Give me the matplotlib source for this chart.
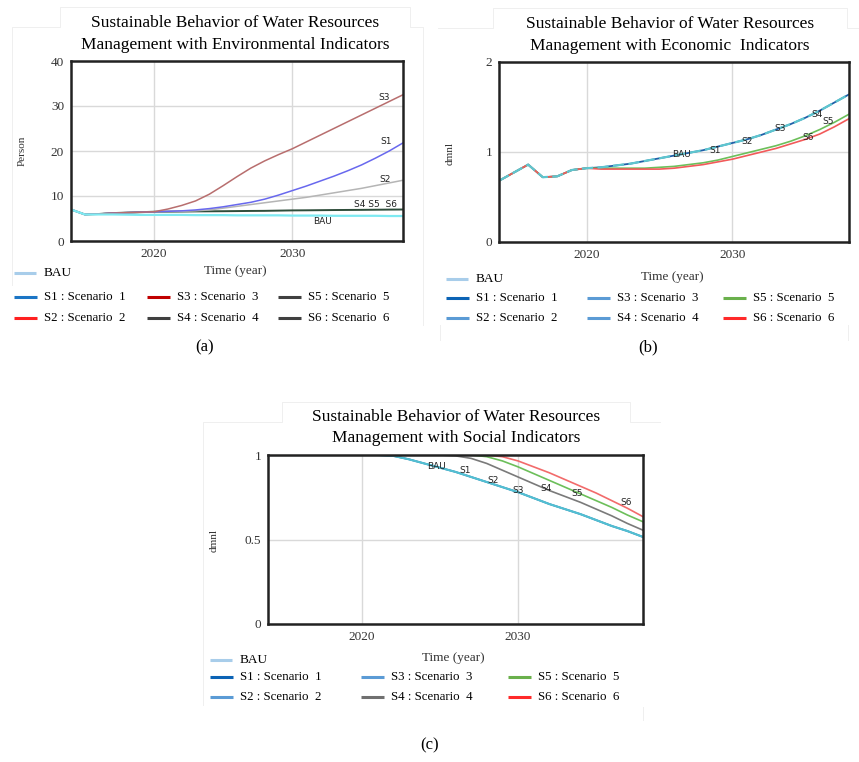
import matplotlib
matplotlib.use("Agg")
import matplotlib.pyplot as plt
from matplotlib.lines import Line2D

W, H = 859, 762
SERIF = "Liberation Serif"

years = list(range(2014, 2039))

# (a) environmental indicators, Person
bau_a = [7.0, 5.9, 5.9, 5.9, 5.85, 5.8, 5.8, 5.8, 5.8, 5.75, 5.75, 5.75, 5.7,
         5.7, 5.7, 5.7, 5.65, 5.65, 5.65, 5.6, 5.6, 5.6, 5.6, 5.55, 5.55]
s1_a = [7.0, 5.9, 6.0, 6.2, 6.3, 6.4, 6.5, 6.6, 6.7, 6.9, 7.2, 7.6, 8.1,
        8.6, 9.3, 10.2, 11.2, 12.2, 13.3, 14.4, 15.6, 16.9, 18.4, 20.0, 21.8]
s2_a = [7.0, 5.9, 6.0, 6.2, 6.3, 6.4, 6.5, 6.55, 6.6, 6.7, 6.9, 7.3, 7.7,
        8.1, 8.5, 8.9, 9.3, 9.7, 10.2, 10.7, 11.2, 11.7, 12.3, 12.9, 13.5]
s3_a = [7.0, 5.9, 6.0, 6.2, 6.3, 6.4, 6.5, 7.1, 7.9, 8.9, 10.4, 12.3, 14.3,
        16.2, 17.8, 19.2, 20.5, 22.0, 23.5, 25.0, 26.5, 28.0, 29.5, 31.0, 32.5]
s456_a = [7.0, 5.9, 6.0, 6.2, 6.3, 6.4, 6.5, 6.52, 6.55, 6.58, 6.6, 6.62, 6.65,
          6.68, 6.7, 6.75, 6.8, 6.82, 6.85, 6.88, 6.9, 6.92, 6.95, 6.98, 7.0]

# (b) economic indicators, dmnl
bau_b = [0.68, 0.77, 0.86, 0.72, 0.73, 0.80, 0.82, 0.83, 0.85, 0.87, 0.90, 0.93,
         0.96, 0.99, 1.02, 1.06, 1.10, 1.14, 1.19, 1.25, 1.31, 1.38, 1.46, 1.55, 1.64]
s5_b = [0.68, 0.77, 0.86, 0.72, 0.73, 0.80, 0.82, 0.82, 0.82, 0.82, 0.82, 0.83,
        0.84, 0.86, 0.88, 0.91, 0.95, 0.99, 1.03, 1.07, 1.12, 1.18, 1.25, 1.33, 1.42]
s6_b = [0.68, 0.77, 0.86, 0.72, 0.73, 0.80, 0.82, 0.81, 0.81, 0.81, 0.81, 0.81,
        0.82, 0.84, 0.86, 0.89, 0.92, 0.96, 1.00, 1.04, 1.09, 1.14, 1.20, 1.28, 1.37]

# (c) social indicators, dmnl
bau_c = [1.0, 1.0, 1.0, 1.0, 1.0, 1.0, 1.0, 1.0, 0.995, 0.975, 0.95, 0.925, 0.90,
         0.87, 0.84, 0.81, 0.78, 0.745, 0.71, 0.68, 0.65, 0.615, 0.58, 0.55, 0.515]
s4_c = [1.0, 1.0, 1.0, 1.0, 1.0, 1.0, 1.0, 1.0, 1.0, 1.0, 1.0, 1.0, 0.995,
        0.98, 0.95, 0.91, 0.87, 0.83, 0.79, 0.755, 0.72, 0.68, 0.64, 0.595, 0.555]
s5_c = [1.0, 1.0, 1.0, 1.0, 1.0, 1.0, 1.0, 1.0, 1.0, 1.0, 1.0, 1.0, 1.0,
        1.0, 0.99, 0.965, 0.93, 0.89, 0.85, 0.81, 0.77, 0.73, 0.69, 0.645, 0.605]
s6_c = [1.0, 1.0, 1.0, 1.0, 1.0, 1.0, 1.0, 1.0, 1.0, 1.0, 1.0, 1.0, 1.0,
        1.0, 1.0, 0.99, 0.965, 0.93, 0.895, 0.855, 0.815, 0.775, 0.73, 0.685, 0.635]

legend_names = ["S1 : Scenario  1", "S2 : Scenario  2", "S3 : Scenario  3",
                "S4 : Scenario  4", "S5 : Scenario  5", "S6 : Scenario  6"]


def box(l, t, r, b):
    return [l / W, 1 - b / H, (r - l) / W, (b - t) / H]


def ftext(x, y, s, **kw):
    fig.text(x / W, 1 - y / H, s, **kw)


def fline(x1, x2, y, color, lw=2.2):
    fig.add_artist(Line2D([x1 / W, x2 / W], [1 - y / H, 1 - y / H],
                          transform=fig.transFigure, color=color, lw=lw,
                          solid_capstyle="butt"))


def frame(pts):
    # faint crop border left over from the screenshots
    fig.add_artist(Line2D([p[0] / W for p in pts], [1 - p[1] / H for p in pts],
                          transform=fig.transFigure, color="#efefef", lw=0.7))


def setup_axes(ax, ymax, yticks, yticklabels):
    ax.set_xlim(2014, 2038)
    ax.set_ylim(0, ymax)
    ax.set_xticks([2020, 2030])
    ax.set_yticks(yticks)
    ax.set_yticklabels(yticklabels)
    ax.tick_params(length=0, pad=5, labelsize=9.5, labelcolor="#333333")
    for lab in ax.get_xticklabels() + ax.get_yticklabels():
        lab.set_fontfamily(SERIF)
    ax.grid(True, color="#d9d9d9", lw=1)
    for sp in ax.spines.values():
        sp.set_linewidth(1.8)
        sp.set_color("#222222")


def legend(x0, y_bau, rows, cols, colors, time_x):
    fline(x0[0], x0[0] + 22, y_bau, "#a8cdea")
    ftext(x0[0] + 30, y_bau, "BAU", family=SERIF, fontsize=9.5, va="center")
    ftext(time_x, y_bau - 2, "Time (year)", family=SERIF, fontsize=9.5,
          va="center", ha="center", color="#333333")
    k = 0
    for c in range(3):
        for r in range(2):
            fline(cols[c], cols[c] + 23, rows[r], colors[k])
            ftext(cols[c] + 30, rows[r], legend_names[k], family=SERIF,
                  fontsize=9.3, va="center")
            k += 1


fig = plt.figure(figsize=(W / 100, H / 100), dpi=100)

lab_kw = dict(fontsize=6.5, family="DejaVu Sans", color="#222222",
              ha="center", va="center")

frame([(12, 285), (12, 27), (60, 27), (60, 7), (410, 7), (410, 27), (423, 27), (423, 325)])
frame([(438, 28), (493, 28), (493, 8), (847, 8), (847, 28), (859, 28)])
frame([(440, 325), (440, 340)])
frame([(848, 325), (848, 340)])
frame([(203, 705), (203, 422), (282, 422), (282, 402), (630, 402), (630, 422), (660, 422)])
frame([(643, 707), (643, 720)])

# ---------- (a)
ax = fig.add_axes(box(71, 61, 403, 241))
ax.plot(years, s456_a, color="#2e4d3a", lw=1.4)
ax.plot(years, s2_a, color="#b5b5b5", lw=1.1)
ax.plot(years, s1_a, color="#6868ee", lw=1.1)
ax.plot(years, s3_a, color="#b86e6e", lw=1.1)
ax.plot(years, bau_a, color="#7eeaf2", lw=1.6)
setup_axes(ax, 40, [0, 10, 20, 30, 40], ["0", "10", "20", "30", "40"])
ax.text(2036.6, 32.0, "S3", **lab_kw)
ax.text(2036.8, 22.0, "S1", **lab_kw)
ax.text(2036.7, 13.7, "S2", **lab_kw)
ax.text(2036.0, 8.2, "S4 S5  S6", **lab_kw)
ax.text(2032.2, 4.4, "BAU", **lab_kw)
ftext(235, 23, "Sustainable Behavior of Water Resources", family=SERIF,
      fontsize=12.5, ha="center", va="center")
ftext(235, 45, "Management with Environmental Indicators", family=SERIF,
      fontsize=12.5, ha="center", va="center")
ftext(22, 151, "Person", family=SERIF, fontsize=8, rotation=90,
      ha="center", va="center", color="#333333")
legend([14], 273, [297, 318], [14, 147, 278],
       ["#1b75c5", "#ff2020", "#c00000", "#404040", "#404040", "#404040"], 235)

# ---------- (b)
ax = fig.add_axes(box(499, 62, 849, 242))
ax.plot(years, bau_b, color="#1f5fa8", lw=1.3)
ax.plot(years, s5_b, color="#6cbf5a", lw=1.2)
ax.plot(years, s6_b, color="#f25a5a", lw=1.2)
ax.plot(years, bau_b, color="#5ec6cf", lw=1.6, dashes=(5, 2))
setup_axes(ax, 2, [0, 1, 2], ["0", "1", "2"])
for name, x, y in [("BAU", 2026.5, 0.97), ("S1", 2028.8, 1.02), ("S2", 2031.0, 1.12),
                   ("S3", 2033.3, 1.26), ("S4", 2035.8, 1.42), ("S6", 2035.2, 1.16),
                   ("S5", 2036.6, 1.34)]:
    ax.text(x, y, name, **lab_kw)
ftext(670, 24, "Sustainable Behavior of Water Resources", family=SERIF,
      fontsize=12.5, ha="center", va="center")
ftext(670, 46, "Management with Economic  Indicators", family=SERIF,
      fontsize=12.5, ha="center", va="center")
ftext(450, 153, "dmnl", family=SERIF, fontsize=8, rotation=90,
      ha="center", va="center", color="#333333")
legend([446], 279, [298, 318], [446, 587, 723],
       ["#0b63b5", "#5b9bd5", "#5b9bd5", "#5b9bd5", "#6ab04c", "#ff2a2a"], 672)

# ---------- (c)
ax = fig.add_axes(box(268, 455, 643, 624))
ax.plot(years, bau_c, color="#1f5fa8", lw=1.3)
ax.plot(years, s4_c, color="#7a7a7a", lw=1.2)
ax.plot(years, s5_c, color="#6cbf5a", lw=1.2)
ax.plot(years, s6_c, color="#f26b6b", lw=1.2)
ax.plot(years, bau_c, color="#52c0d2", lw=1.5)
setup_axes(ax, 1, [0, 0.5, 1], ["0", "0.5", "1"])
for name, x, y in [("BAU", 2024.8, 0.93), ("S1", 2026.6, 0.91), ("S2", 2028.4, 0.85),
                   ("S3", 2030.0, 0.79), ("S4", 2031.8, 0.80), ("S5", 2033.8, 0.77),
                   ("S6", 2036.9, 0.72)]:
    ax.text(x, y, name, **lab_kw)
ftext(456, 417, "Sustainable Behavior of Water Resources", family=SERIF,
      fontsize=12.5, ha="center", va="center")
ftext(456, 438, "Management with Social Indicators", family=SERIF,
      fontsize=12.5, ha="center", va="center")
ftext(214, 540, "dmnl", family=SERIF, fontsize=8, rotation=90,
      ha="center", va="center", color="#333333")
legend([210], 660, [677, 697], [210, 361, 508],
       ["#0b63b5", "#5b9bd5", "#5b9bd5", "#707070", "#6ab04c", "#ff2a2a"], 453)

# panel captions
ftext(205, 347, "(a)", family=SERIF, fontsize=12, ha="center", va="center")
ftext(648, 347, "(b)", family=SERIF, fontsize=12, ha="center", va="center")
ftext(430, 745, "(c)", family=SERIF, fontsize=12, ha="center", va="center")

fig.savefig("out.png", dpi=100)
